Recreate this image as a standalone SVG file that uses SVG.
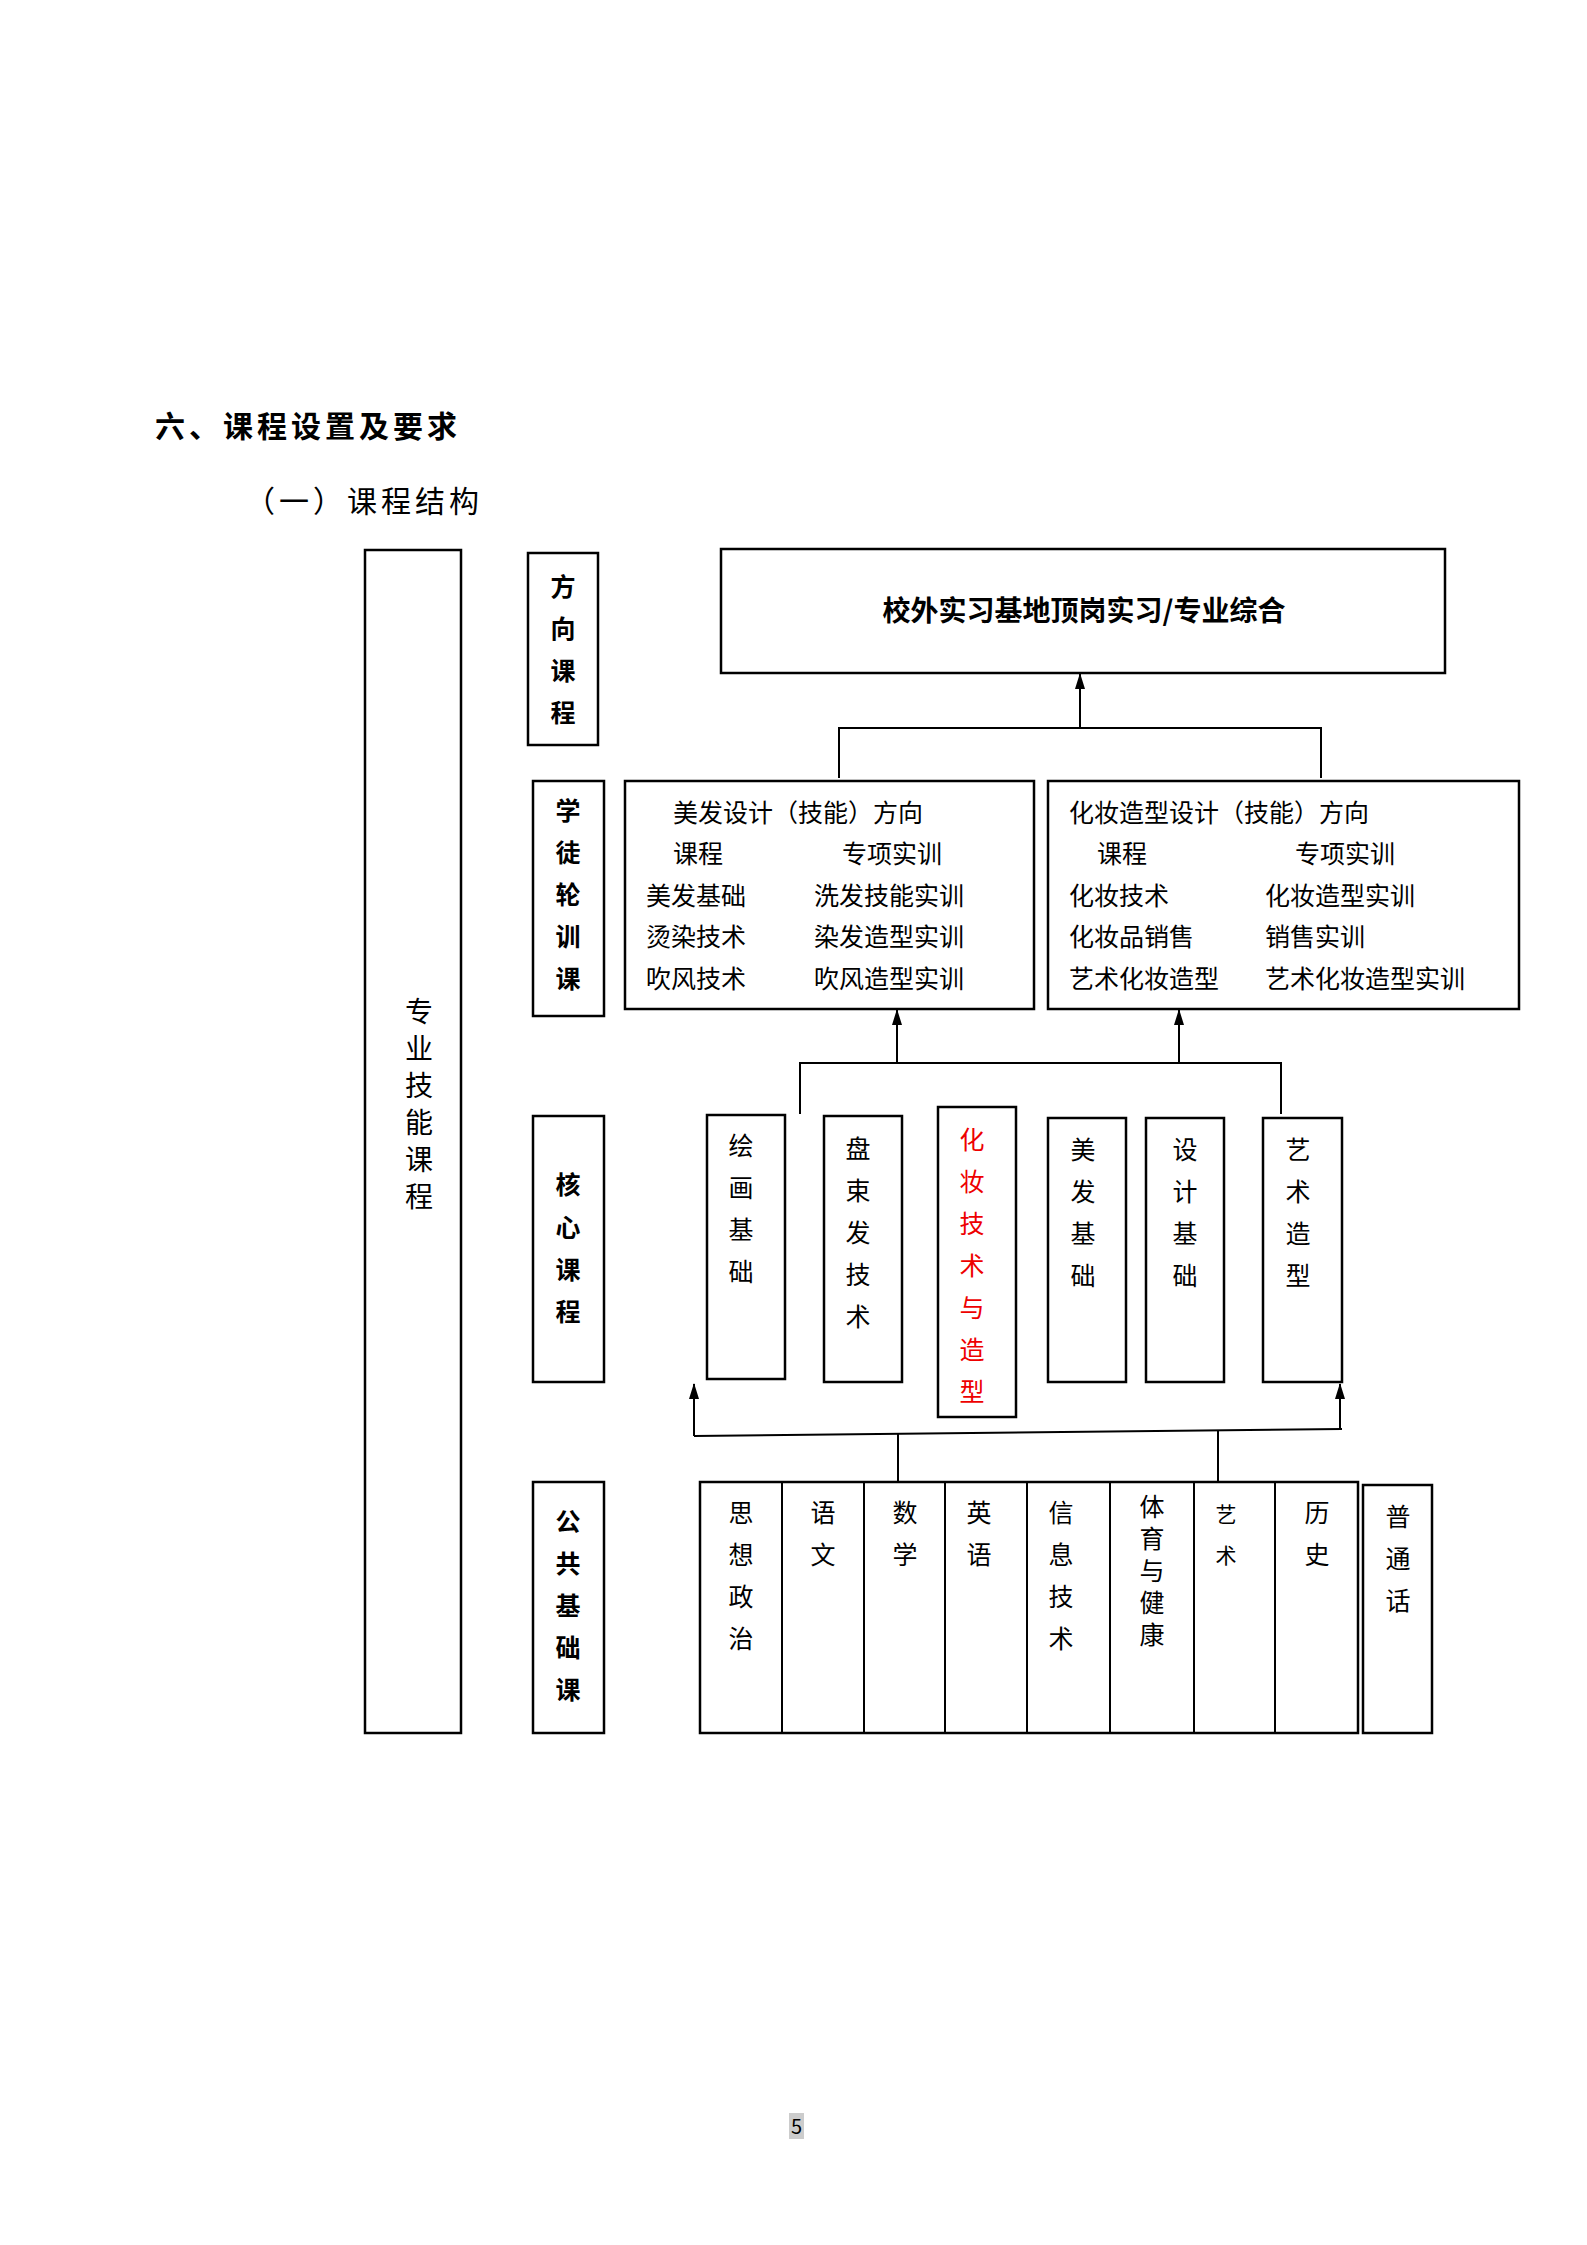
<svg xmlns="http://www.w3.org/2000/svg" width="1587" height="2245" viewBox="0 0 1587 2245">
<style>
text{font-family:"Noto Sans CJK SC","Noto Sans",sans-serif;fill:#000}
.b{fill:#fff;stroke:#000;stroke-width:2.5}
.l{stroke:#000;stroke-width:2;fill:none}
.v{font-size:25px;text-anchor:middle}
.lab{font-size:25px;text-anchor:middle;font-weight:bold}
.t{font-size:25px}
</style>
<defs><marker id="a" markerWidth="16" markerHeight="10" refX="15" refY="5" orient="auto" markerUnits="userSpaceOnUse" viewBox="0 0 16 10"><path d="M0,0 L16,5 L0,10 Z" fill="#000"/></marker></defs>
<rect width="1587" height="2245" fill="#fff"/>
<text x="155" y="437" font-size="30" font-weight="bold" letter-spacing="4">六、课程设置及要求</text>
<text x="245" y="512" font-size="30" letter-spacing="4">（一）课程结构</text>

<g id="zhuanye"><rect class="b" x="365" y="550" width="96" height="1183"/>
<text style="font-size:28px;text-anchor:middle"><tspan x="419" y="1022">专</tspan><tspan x="419" y="1059">业</tspan><tspan x="419" y="1096">技</tspan><tspan x="419" y="1133">能</tspan><tspan x="419" y="1170">课</tspan><tspan x="419" y="1207">程</tspan></text></g>

<g id="fangxiang"><rect class="b" x="528" y="553" width="70" height="192"/>
<text class="lab"><tspan x="563" y="596">方</tspan><tspan x="563" y="638">向</tspan><tspan x="563" y="680">课</tspan><tspan x="563" y="722">程</tspan></text></g>
<g id="xuetu"><rect class="b" x="533" y="781" width="71" height="235"/>
<text class="lab"><tspan x="568" y="820">学</tspan><tspan x="568" y="862">徒</tspan><tspan x="568" y="904">轮</tspan><tspan x="568" y="946">训</tspan><tspan x="568" y="988">课</tspan></text></g>
<g id="hexin"><rect class="b" x="533" y="1116" width="71" height="266"/>
<text class="lab"><tspan x="568" y="1194">核</tspan><tspan x="568" y="1237">心</tspan><tspan x="568" y="1279">课</tspan><tspan x="568" y="1321">程</tspan></text></g>
<g id="gonggong"><rect class="b" x="533" y="1482" width="71" height="251"/>
<text class="lab"><tspan x="568" y="1531">公</tspan><tspan x="568" y="1573">共</tspan><tspan x="568" y="1615">基</tspan><tspan x="568" y="1657">础</tspan><tspan x="568" y="1699">课</tspan></text></g>

<g id="top"><rect class="b" x="721" y="549" width="724" height="124"/>
<text x="1084" y="621" font-size="28" font-weight="bold" text-anchor="middle">校外实习基地顶岗实习/专业综合</text></g>

<g id="meifa"><rect class="b" x="625" y="781" width="409" height="228"/>
<text class="t" x="673" y="822">美发设计（技能）方向</text>
<text class="t" x="673" y="863">课程</text><text class="t" x="842" y="863">专项实训</text>
<text class="t" x="646" y="905">美发基础</text><text class="t" x="814" y="905">洗发技能实训</text>
<text class="t" x="646" y="946">烫染技术</text><text class="t" x="814" y="946">染发造型实训</text>
<text class="t" x="646" y="988">吹风技术</text><text class="t" x="814" y="988">吹风造型实训</text></g>
<g id="huazhuang"><rect class="b" x="1048" y="781" width="471" height="228"/>
<text class="t" x="1069" y="822">化妆造型设计（技能）方向</text>
<text class="t" x="1097" y="863">课程</text><text class="t" x="1295" y="863">专项实训</text>
<text class="t" x="1069" y="905">化妆技术</text><text class="t" x="1265" y="905">化妆造型实训</text>
<text class="t" x="1069" y="946">化妆品销售</text><text class="t" x="1265" y="946">销售实训</text>
<text class="t" x="1069" y="988">艺术化妆造型</text><text class="t" x="1265" y="988">艺术化妆造型实训</text></g>

<g id="core1"><rect class="b" x="707" y="1115" width="78" height="264"/>
<text class="v"><tspan x="741" y="1155">绘</tspan><tspan x="741" y="1197">画</tspan><tspan x="741" y="1239">基</tspan><tspan x="741" y="1281">础</tspan></text></g>
<g id="core2"><rect class="b" x="824" y="1116" width="78" height="266"/>
<text class="v"><tspan x="858" y="1158">盘</tspan><tspan x="858" y="1200">束</tspan><tspan x="858" y="1242">发</tspan><tspan x="858" y="1284">技</tspan><tspan x="858" y="1326">术</tspan></text></g>
<g id="core3"><rect class="b" x="938" y="1107" width="78" height="310"/>
<text class="v" style="fill:#e00"><tspan x="972" y="1149">化</tspan><tspan x="972" y="1191">妆</tspan><tspan x="972" y="1233">技</tspan><tspan x="972" y="1275">术</tspan><tspan x="972" y="1317">与</tspan><tspan x="972" y="1359">造</tspan><tspan x="972" y="1401">型</tspan></text></g>
<g id="core4"><rect class="b" x="1048" y="1118" width="78" height="264"/>
<text class="v"><tspan x="1083" y="1159">美</tspan><tspan x="1083" y="1201">发</tspan><tspan x="1083" y="1243">基</tspan><tspan x="1083" y="1285">础</tspan></text></g>
<g id="core5"><rect class="b" x="1146" y="1118" width="78" height="264"/>
<text class="v"><tspan x="1185" y="1159">设</tspan><tspan x="1185" y="1201">计</tspan><tspan x="1185" y="1243">基</tspan><tspan x="1185" y="1285">础</tspan></text></g>
<g id="core6"><rect class="b" x="1263" y="1118" width="79" height="264"/>
<text class="v"><tspan x="1298" y="1159">艺</tspan><tspan x="1298" y="1201">术</tspan><tspan x="1298" y="1243">造</tspan><tspan x="1298" y="1285">型</tspan></text></g>

<g id="public"><rect class="b" x="700" y="1482" width="658" height="251"/>
<path class="l" d="M782,1482V1733M864,1482V1733M945,1482V1733M1027,1482V1733M1110,1482V1733M1194,1482V1733M1275,1482V1733"/>
<text class="v"><tspan x="741" y="1522">思</tspan><tspan x="741" y="1564">想</tspan><tspan x="741" y="1606">政</tspan><tspan x="741" y="1648">治</tspan></text>
<text class="v"><tspan x="823" y="1522">语</tspan><tspan x="823" y="1564">文</tspan></text>
<text class="v"><tspan x="905" y="1522">数</tspan><tspan x="905" y="1564">学</tspan></text>
<text class="v"><tspan x="979" y="1522">英</tspan><tspan x="979" y="1564">语</tspan></text>
<text class="v"><tspan x="1061" y="1522">信</tspan><tspan x="1061" y="1564">息</tspan><tspan x="1061" y="1606">技</tspan><tspan x="1061" y="1648">术</tspan></text>
<text class="v"><tspan x="1152" y="1516">体</tspan><tspan x="1152" y="1548">育</tspan><tspan x="1152" y="1580">与</tspan><tspan x="1152" y="1612">健</tspan><tspan x="1152" y="1644">康</tspan></text>
<text style="font-size:21px;text-anchor:middle"><tspan x="1226" y="1522">艺</tspan><tspan x="1226" y="1563">术</tspan></text>
<text class="v"><tspan x="1317" y="1522">历</tspan><tspan x="1317" y="1564">史</tspan></text></g>
<g id="putonghua"><rect class="b" x="1363" y="1485" width="69" height="248"/>
<text class="v"><tspan x="1398" y="1526">普</tspan><tspan x="1398" y="1568">通</tspan><tspan x="1398" y="1610">话</tspan></text></g>

<g id="connectors">
<path class="l" d="M839,778V728H1321V778"/>
<path class="l" d="M1080,728V674" marker-end="url(#a)"/>
<path class="l" d="M800,1114V1063H1281V1114"/>
<path class="l" d="M897,1063V1010" marker-end="url(#a)"/>
<path class="l" d="M1179,1063V1010" marker-end="url(#a)"/>
<path class="l" d="M694,1436L1342,1429"/>
<path class="l" d="M694,1436V1384" marker-end="url(#a)"/>
<path class="l" d="M1340,1429V1384" marker-end="url(#a)"/>
<path class="l" d="M898,1434V1482M1218,1431V1482"/>
</g>
<rect x="789" y="2113" width="15" height="26" fill="#ccc"/>
<text x="796.5" y="2134" font-size="20" text-anchor="middle">5</text>
</svg>
